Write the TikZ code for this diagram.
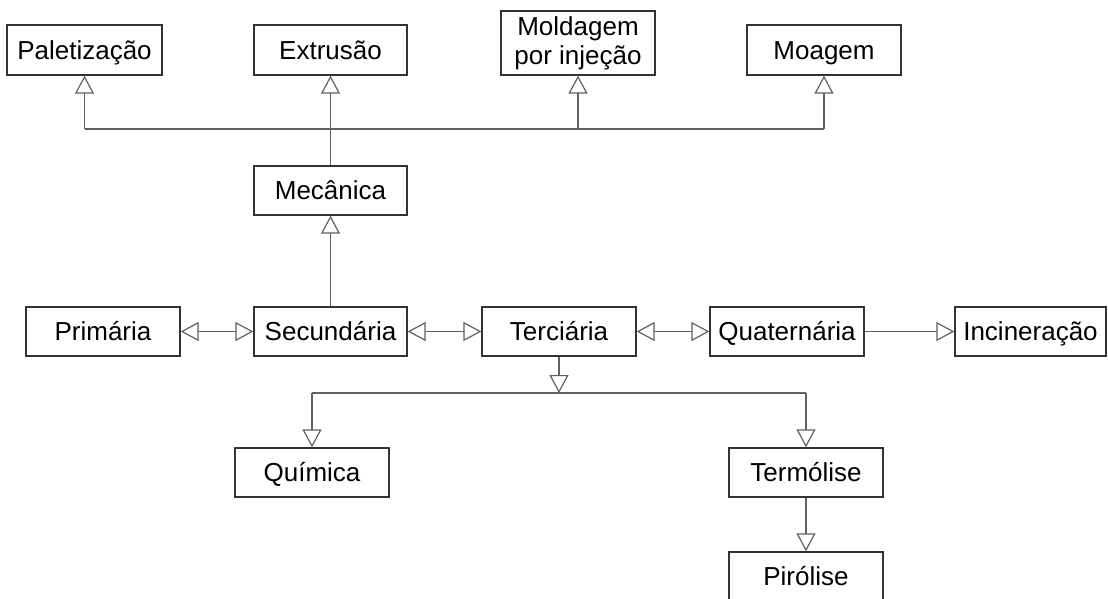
\documentclass[tikz,border=0pt]{standalone}
\usepackage{fontspec}
\setmainfont{Liberation Sans}
\usetikzlibrary{arrows.meta}
\begin{document}
\begin{tikzpicture}[x=1pt,y=-1pt,
  box/.style={draw=black!80, line width=1.3pt, rectangle, inner sep=0pt,
    minimum height=49pt, minimum width=154pt,
    font=\fontsize{26}{29}\selectfont},
  oneline/.style={text height=18.6pt, text depth=0pt},
  conn/.style={draw=black!62, line width=1.5pt},
  tip/.tip={Triangle[open, length=18pt, width=19pt, line width=1.2pt]},
  arr/.style={conn, -tip},
  darr/.style={conn, tip-tip}
]
\useasboundingbox (0,0) rectangle (1108,598);
% top row
\node[box, oneline, minimum height=50pt, minimum width=155pt] (pal) at (84.5,50) {Paletização};
\node[box, oneline, minimum height=50pt, minimum width=153pt] (ext) at (330.5,50) {Extrusão};
\node[box, align=center, minimum height=64pt] (mol) at (578,43) {Moldagem\\por injeção};
\node[box, oneline, minimum height=50pt] (moa) at (824,50) {Moagem};
% mechanical
\node[box, oneline, minimum width=153pt] (mec) at (330.5,190.5) {Mecânica};
% middle row
\node[box, oneline] (pri) at (103,331.5) {Primária};
\node[box, oneline, minimum width=153pt] (sec) at (330.5,331.5) {Secundária};
\node[box, oneline] (ter) at (559,331.5) {Terciária};
\node[box, oneline] (qua) at (787,331.5) {Quaternária};
\node[box, oneline, minimum width=151pt] (inc) at (1030.5,331.5) {Incineração};
% bottom
\node[box, oneline] (qui) at (312,472.5) {Química};
\node[box, oneline] (tmo) at (806,472.5) {Termólise};
\node[box, oneline] (pir) at (806,576.5) {Pirólise};
% top bus
\coordinate (mb) at (330.5,129);
\draw[conn] (mec.north) -- (mb);
\draw[conn] (pal.south |- mb) -- (moa.south |- mb);
\draw[arr] (pal.south |- mb) -- (pal.south);
\draw[arr] (mb) -- (ext.south);
\draw[arr] (mol.south |- mb) -- (mol.south);
\draw[arr] (moa.south |- mb) -- (moa.south);
\draw[arr] (sec.north) -- (mec.south);
% middle row
\draw[darr] (pri.east) -- (sec.west);
\draw[darr] (sec.east) -- (ter.west);
\draw[darr] (ter.east) -- (qua.west);
\draw[arr] (qua.east) -- (inc.west);
% bottom bus
\coordinate (tb) at (559,393);
\draw[arr] (ter.south) -- (tb);
\draw[conn] (qui.north |- tb) -- (tmo.north |- tb);
\draw[arr] (qui.north |- tb) -- (qui.north);
\draw[arr] (tmo.north |- tb) -- (tmo.north);
\draw[arr] (tmo.south) -- (pir.north);
\end{tikzpicture}
\end{document}
